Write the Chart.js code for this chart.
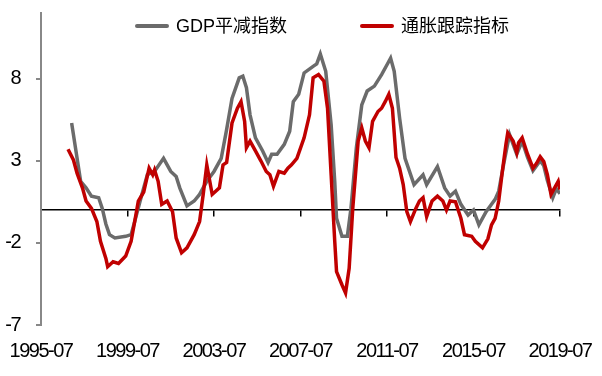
<!DOCTYPE html>
<html>
<head>
<meta charset="utf-8">
<script src="https://cdn.jsdelivr.net/npm/chart.js@4.4.1/dist/chart.umd.min.js"></script>
<style>
  html, body { margin: 0; padding: 0; background: #fff; }
  #wrap { position: relative; width: 602px; height: 376px; }
  .leg { position: absolute; top: 14px; height: 24px; line-height: 24px; font-family: "Liberation Sans", "Noto Sans CJK SC", sans-serif; font-size: 18px; color: #000; white-space: nowrap; }
  .leg .sw { display: inline-block; width: 34px; height: 4px; vertical-align: middle; margin-right: 7px; margin-top: -3px; border-radius: 2px; }
</style>
</head>
<body>
<div id="wrap">
  <canvas id="chart" width="602" height="376"></canvas>
</div>
<script>
const seriesNames = ["GDP平减指数", "通胀跟踪指标"];

// GDP deflator at its turning points
const gdpDates = [
  "1996-12", "1997-05", "1997-08", "1997-11", "1998-03", "1998-05", "1998-07", "1998-09", "1998-12",
  "1999-06", "1999-09", "1999-11", "2000-02", "2000-06", "2000-10", "2001-03", "2001-07", "2001-10",
  "2001-12", "2002-04", "2002-08", "2002-11", "2003-03", "2003-07", "2003-11", "2004-02", "2004-05",
  "2004-09", "2004-11", "2005-01", "2005-03", "2005-06", "2005-10", "2006-01", "2006-03", "2006-06",
  "2006-10", "2007-01", "2007-03", "2007-06", "2007-09", "2008-02", "2008-04", "2008-06", "2008-09",
  "2008-12", "2009-02", "2009-03", "2009-06", "2009-09", "2009-11", "2010-02", "2010-05", "2010-08",
  "2010-12", "2011-04", "2011-07", "2011-09", "2011-11", "2012-02", "2012-05", "2012-10", "2013-03",
  "2013-05", "2013-11", "2014-03", "2014-06", "2014-09", "2014-12", "2015-04", "2015-07", "2015-10",
  "2016-02", "2016-05", "2016-07", "2016-09", "2016-12", "2017-03", "2017-05", "2017-07", "2017-10",
  "2018-01", "2018-04", "2018-06", "2018-08", "2018-10", "2018-12", "2019-03", "2019-05", "2019-07"
];
const gdpValues = [
  5.3, 1.75, 1.35, 0.85, 0.75, 0.1, -0.85, -1.5, -1.7,
  -1.6, -1.5, -0.7, 0.55, 2.15, 2.35, 3.15, 2.35, 2.05,
  1.35, 0.25, 0.55, 0.95, 1.75, 2.35, 3.15, 4.9, 6.8,
  8.05, 8.15, 7.45, 5.8, 4.4, 3.6, 2.9, 3.4, 3.4,
  4.0, 4.8, 6.6, 7.05, 8.35, 8.75, 8.9, 9.5, 8.45,
  5.2, 1.75, -0.5, -1.6, -1.6, 0.1, 3.8, 6.4, 7.25,
  7.55, 8.25, 8.85, 9.25, 8.45, 5.6, 3.15, 1.55, 2.15,
  1.55, 2.65, 1.35, 0.85, 1.15, 0.35, -0.3, 0.0, -0.9,
  -0.1, 0.35, 0.65, 1.15, 2.95, 4.6, 4.0, 3.4, 4.2,
  3.2, 2.4, 2.7, 3.0, 2.7, 1.8, 0.75, 1.3, 1.0
];

// inflation tracker, monthly detail
const trackerDates = [
  "1996-10", "1997-01", "1997-03", "1997-06", "1997-08", "1997-11", "1998-02", "1998-04", "1998-07",
  "1998-08", "1998-11", "1999-02", "1999-06", "1999-09", "1999-11", "2000-01", "2000-04", "2000-07",
  "2000-09", "2000-10", "2000-12", "2001-02", "2001-05", "2001-08", "2001-10", "2002-01", "2002-04",
  "2002-08", "2002-11", "2003-01", "2003-03", "2003-06", "2003-10", "2003-12", "2004-02", "2004-05",
  "2004-08", "2004-10", "2004-12", "2005-01", "2005-03", "2005-06", "2005-09", "2005-12", "2006-02",
  "2006-04", "2006-07", "2006-10", "2006-12", "2007-02", "2007-05", "2007-09", "2007-12", "2008-02",
  "2008-05", "2008-08", "2008-10", "2008-12", "2009-02", "2009-03", "2009-06", "2009-08", "2009-10",
  "2009-12", "2010-03", "2010-05", "2010-07", "2010-09", "2010-11", "2011-02", "2011-04", "2011-06",
  "2011-08", "2011-10", "2011-12", "2012-02", "2012-04", "2012-06", "2012-08", "2012-11", "2013-01",
  "2013-03", "2013-05", "2013-08", "2013-11", "2014-02", "2014-04", "2014-06", "2014-09", "2014-12",
  "2015-02", "2015-06", "2015-08", "2015-12", "2016-03", "2016-05", "2016-07", "2016-09", "2016-11",
  "2017-01", "2017-02", "2017-05", "2017-07", "2017-08", "2017-10", "2018-01", "2018-04", "2018-06",
  "2018-08", "2018-10", "2018-12", "2019-02", "2019-04", "2019-06", "2019-07"
];
const trackerValues = [
  3.7, 3.05, 2.25, 1.35, 0.55, 0.1, -0.7, -1.9, -2.95,
  -3.45, -3.15, -3.25, -2.8, -1.9, -0.7, 0.55, 1.1, 2.55,
  2.15, 2.45, 1.75, 0.35, 0.55, -0.1, -1.7, -2.6, -2.3,
  -1.5, -0.7, 0.95, 2.75, 0.95, 1.35, 2.75, 2.9, 5.3,
  6.2, 6.6, 5.4, 3.8, 4.2, 3.6, 3.0, 2.35, 2.15,
  1.45, 2.35, 2.25, 2.55, 2.75, 3.15, 4.4, 5.8, 8.05,
  8.25, 7.85, 6.2, 2.15, -1.9, -3.75, -4.55, -5.05, -3.55,
  0.1, 4.2, 5.0, 4.2, 3.8, 5.4, 6.0, 6.2, 6.6,
  7.05, 6.2, 3.2, 2.55, 1.55, -0.1, -0.7, 0.1, 0.55,
  0.75, -0.4, 0.55, 0.85, 0.55, 0.0, 0.55, 0.5, -0.5,
  -1.5, -1.6, -1.9, -2.3, -1.75, -0.9, -0.5, 0.55, 2.35,
  4.0, 4.7, 4.2, 3.5, 4.1, 4.4, 3.4, 2.55, 2.85,
  3.25, 2.95, 2.15, 0.95, 1.35, 1.75, 1.25
];

const xTickLabels = ["1995-07", "1999-07", "2003-07", "2007-07", "2011-07", "2015-07", "2019-07"];
const yTicks = [-7, -2, 3, 8];

const origin = xTickLabels[0];
function monthIndex(s) {
  const [y, m] = s.split("-").map(Number);
  const [y0, m0] = origin.split("-").map(Number);
  return (y - y0) * 12 + (m - m0);
}

const xTickValues = xTickLabels.map(monthIndex);
const xMax = xTickValues[xTickValues.length - 1];

const colors = ["#6b6b6b", "#c00000"];
const axisFont = { family: "'Liberation Sans', Arial, sans-serif", size: 20 };

const setXTicks = (scale) => { scale.ticks = xTickValues.map((v) => ({ value: v })); };
const noPad = (s) => { s.paddingLeft = 0; s.paddingRight = 0; s.paddingTop = 0; s.paddingBottom = 0; };

// axis labels in the original are a narrow face, squeeze the letters a bit
const narrowText = {
  id: "narrowText",
  beforeUpdate: (chart) => { chart.ctx.letterSpacing = "-1.5px"; },
};

new Chart(document.getElementById("chart").getContext("2d"), {
  type: "line",
  data: {
    datasets: [
      {
        label: seriesNames[0],
        data: gdpDates.map((d, i) => ({ x: monthIndex(d), y: gdpValues[i] })),
        borderColor: colors[0],
        borderWidth: 3.5,
        pointRadius: 0,
        tension: 0,
        order: 1,
      },
      {
        label: seriesNames[1],
        data: trackerDates.map((d, i) => ({ x: monthIndex(d), y: trackerValues[i] })),
        borderColor: colors[1],
        borderWidth: 3.5,
        pointRadius: 0,
        tension: 0,
        order: 0,
      },
    ],
  },
  options: {
    responsive: false,
    animation: false,
    layout: { padding: { top: 13, right: 42, left: 0, bottom: 0 } },
    scales: {
      x: {
        type: "linear",
        min: 0,
        max: xMax,
        position: { y: 0 },
        afterBuildTicks: setXTicks,
        afterFit: (s) => { s.height = 0; noPad(s); },
        ticks: { display: false },
        grid: { drawOnChartArea: false, drawTicks: true, tickLength: 6, color: "#000", lineWidth: 1.5 },
        border: { display: true, color: "#000", width: 1.5 },
      },
      x2: {
        type: "linear",
        position: "bottom",
        min: 0,
        max: xMax,
        afterBuildTicks: setXTicks,
        afterFit: (s) => { s.height = 51; noPad(s); },
        ticks: {
          color: "#000",
          font: axisFont,
          padding: 14,
          maxRotation: 0,
          autoSkip: false,
          callback: (value) => xTickLabels[xTickValues.indexOf(value)],
        },
        grid: { display: false, drawTicks: false },
        border: { display: false },
      },
      y: {
        min: -7,
        max: 12,
        afterBuildTicks: (scale) => { scale.ticks = yTicks.map((v) => ({ value: v })); },
        afterFit: (s) => { s.width = 41; noPad(s); },
        ticks: { color: "#000", font: axisFont, padding: 16 },
        grid: { drawOnChartArea: false, drawTicks: true, tickLength: 5, color: "#888", lineWidth: 2 },
        border: { display: true, color: "#888", width: 2 },
      },
    },
    plugins: {
      legend: { display: false },
      tooltip: { enabled: false },
    },
  },
  plugins: [narrowText],
});

// legend drawn as html over the plot
const legendLeft = [135, 360];
const wrap = document.getElementById("wrap");
seriesNames.forEach((name, i) => {
  const item = document.createElement("div");
  item.className = "leg";
  item.style.left = legendLeft[i] + "px";
  item.innerHTML = '<span class="sw" style="background:' + colors[i] + '"></span>' + name;
  wrap.appendChild(item);
});
</script>
</body>
</html>
